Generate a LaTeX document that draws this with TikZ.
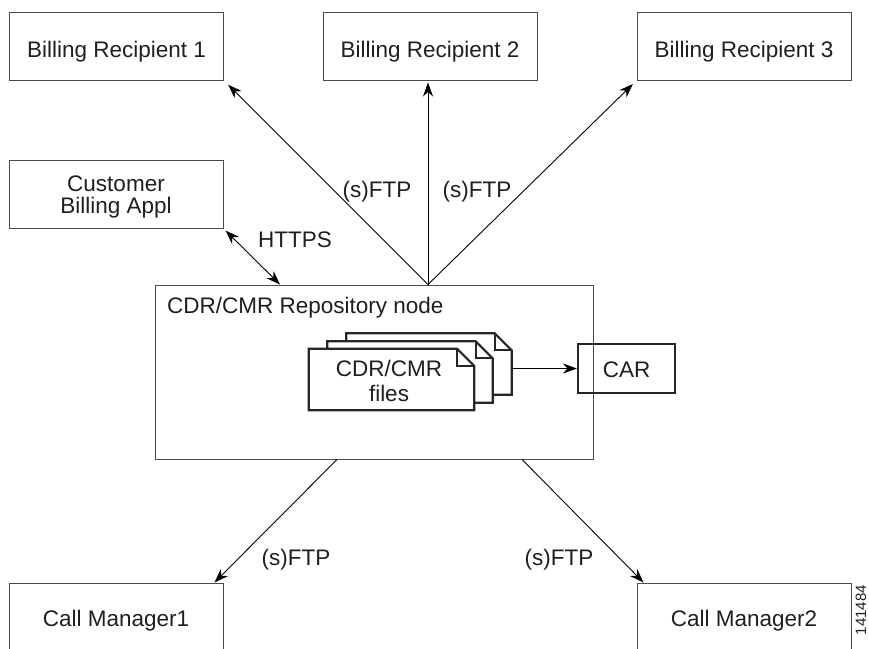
\documentclass[tikz,border=0pt]{standalone}
\usepackage{fontspec}
\setmainfont{Liberation Sans}
\usetikzlibrary{arrows.meta}
\begin{document}
\begin{tikzpicture}[x=1pt,y=-1pt,
  every node/.style={font=\fontsize{22.5}{25}\selectfont, text=black!88},
  box/.style={draw=black!70, line width=1pt, minimum width=214pt, minimum height=68pt, inner sep=0pt, text height=22pt, text depth=0pt},
  docnode/.style={minimum width=165pt, minimum height=61pt, inner sep=0pt},
  docline/.style={draw=black!85, line width=2.2pt, fill=white, line join=miter},
  foldline/.style={draw=black!85, line width=2.2pt, line join=miter},
  conn/.style={line width=0.9pt, -{Stealth[length=14pt,width=10pt]}},
  lbl/.style={inner sep=0pt, anchor=base}
]
\useasboundingbox (0,0) rectangle (869,648);

% top boxes
\node[box] (br1) at (116.5,46) {Billing Recipient 1};
\node[box] (br2) at (430,46) {Billing Recipient 2};
\node[box] (br3) at (744,46) {Billing Recipient 3};
\node[box, align=center, font=\fontsize{22.5}{22}\selectfont, text height=38pt, text depth=0pt] (cba) at (116,194) {Customer\\Billing Appl};

% repository
\node[box, minimum width=438pt, minimum height=174pt] (repo) at (374,372) {};
\node[lbl, anchor=base west] (repolbl) at (167,313) {CDR/CMR Repository node};

% stacked documents
\node[docnode] (d3) at (429,364) {};
\draw[docline] (d3.south west) -- (d3.north west) -- ([xshift=-17pt]d3.north east) -- ([yshift=-17pt]d3.north east) -- (d3.south east) -- cycle;
\draw[foldline] ([xshift=-17pt]d3.north east) -- ([xshift=-17pt,yshift=-17pt]d3.north east) -- ([yshift=-17pt]d3.north east);
\node[docnode] (d2) at (410,372) {};
\draw[docline] (d2.south west) -- (d2.north west) -- ([xshift=-17pt]d2.north east) -- ([yshift=-17pt]d2.north east) -- (d2.south east) -- cycle;
\draw[foldline] ([xshift=-17pt]d2.north east) -- ([xshift=-17pt,yshift=-17pt]d2.north east) -- ([yshift=-17pt]d2.north east);
\node[docnode] (d1) at (391.5,379.5) {};
\draw[docline] (d1.south west) -- (d1.north west) -- ([xshift=-17pt]d1.north east) -- ([yshift=-17pt]d1.north east) -- (d1.south east) -- cycle;
\draw[foldline] ([xshift=-17pt]d1.north east) -- ([xshift=-17pt,yshift=-17pt]d1.north east) -- ([yshift=-17pt]d1.north east);
\node[inner sep=0pt, align=center, text height=43pt, text depth=0pt] (d1txt) at ([xshift=-2.5pt]d1.center) {CDR/CMR\\files};

% CAR
\node[draw=black!85, line width=2.2pt, minimum width=97pt, minimum height=49pt, inner sep=0pt, text height=18pt, text depth=0pt] (car) at (626.5,368.5) {CAR};
\draw[conn] (d3.east |- car.west) -- (car.west);

% bottom boxes
\node[box, text height=18pt] (cm1) at (116,617) {Call Manager1};
\node[box, text height=18pt] (cm2) at (744,617) {Call Manager2};

% connectors to billing recipients
\coordinate (apex) at ([xshift=54pt]repo.north);
\draw[conn, shorten >=6pt] (apex) -- (br1.south east);
\draw[conn, shorten >=2pt] (apex) -- (apex |- br2.south);
\draw[conn, shorten >=5pt] (apex) -- (br3.south west);
\node[lbl] (ftp1) at (377,197) {(s)FTP};
\node[lbl] (ftp2) at (477,197) {(s)FTP};

% HTTPS
\draw[line width=0.9pt, {Stealth[length=14pt,width=10pt]}-{Stealth[length=14pt,width=10pt]}, shorten <=3pt] (cba.south east) -- ([xshift=-94pt]repo.north);
\node[lbl, anchor=base west] (https) at (258,247) {HTTPS};

% connectors to call managers
\draw[conn] ([xshift=-37pt]repo.south) -- ([xshift=-9pt]cm1.north east);
\draw[conn] ([xshift=148pt]repo.south) -- ([xshift=7pt]cm2.north west);
\node[lbl] (ftp3) at (296,565) {(s)FTP};
\node[lbl] (ftp4) at (559,565) {(s)FTP};

% figure number
\node[rotate=90, inner sep=0pt, font=\fontsize{15}{15}\selectfont] (fignum) at (861,610) {141484};
\end{tikzpicture}
\end{document}
